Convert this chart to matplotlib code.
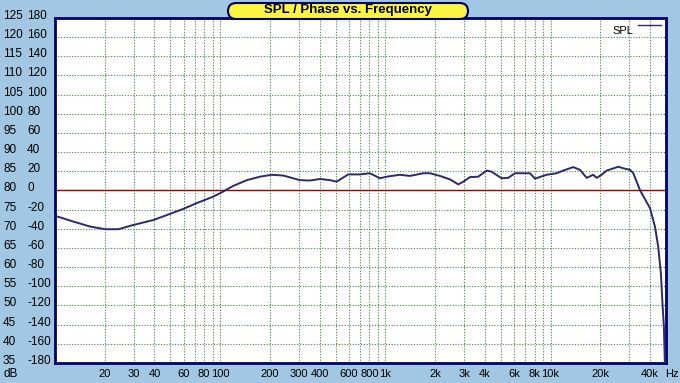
import numpy as np
import matplotlib
matplotlib.use("Agg")
import matplotlib.pyplot as plt
from matplotlib import transforms
from matplotlib.patches import FancyBboxPatch

# ---- data ----
freq_hz = [10, 12.9, 16.3, 20.1, 24.2, 29.8, 39.4, 49.7, 59.8, 72.1, 90.8, 102, 120, 145, 174,
           205, 241, 304, 350, 402, 462, 507, 596, 702, 806, 927, 1018, 1225, 1409, 1695,
           1862, 2141, 2461, 2763, 2965, 3252, 3650, 4100, 4396, 5055, 5546, 6092, 7500,
           8050, 9465, 10890, 11940, 13710, 15060, 16550, 18130, 19010, 20370, 21870,
           25700, 27540, 30270, 31700, 34770, 40000, 42850, 44870, 46560, 47730, 48550, 49200]
spl_db = [73.4, 71.9, 70.6, 69.9, 69.9, 71.0, 72.3, 73.9, 75.2, 76.7, 78.4, 79.5, 81.2, 82.7, 83.6,
          84.1, 83.9, 82.7, 82.6, 83.0, 82.7, 82.3, 84.2, 84.2, 84.5, 83.2, 83.6, 84.1, 83.8, 84.5,
          84.5, 83.8, 82.9, 81.6, 82.3, 83.5, 83.6, 85.2, 84.9, 83.2, 83.3, 84.5, 84.5,
          83.1, 84.1, 84.5, 85.2, 86.1, 85.4, 83.3, 84.1, 83.3, 84.1, 85.2,
          86.2, 85.8, 85.4, 84.5, 80.1, 75.4, 70.6, 65.3, 58.4, 49.7, 44.5, 35.0]

db_labels = [125, 120, 115, 110, 105, 100, 95, 90, 85, 80, 75, 70, 65, 60, 55, 50, 45, 40, 35]
phase_labels = [180, 160, 140, 120, 100, 80, 60, 40, 20, 0, -20, -40, -60, -80, -100, -120,
                -140, -160, -180]
x_tick_freqs = [20, 30, 40, 60, 80, 100, 200, 300, 400, 600, 800, 1000, 2000, 3000, 4000,
                6000, 8000, 10000, 20000, 40000]
x_tick_labels = ["20", "30", "40", "60", "80", "100", "200", "300", "400", "600", "800",
                 "1k", "2k", "3k", "4k", "6k", "8k", "10k", "20k", "40k"]
grid_freqs = ([10 * i for i in range(2, 10)] + [100 * i for i in range(1, 10)] +
              [1000 * i for i in range(1, 10)] + [10000, 20000, 30000, 40000])
title = "SPL / Phase vs. Frequency"
legend_label = "SPL"
ref_level = 80

# ---- figure ----
W, H = 680, 383
bg = "#A2C7E2"
navy = "#00006e"
fig = plt.figure(figsize=(W / 100, H / 100), dpi=100, facecolor=bg)
L, R, T, B = 55, 666, 18, 363
ax = fig.add_axes([L / W, (H - B) / H, (R - L) / W, (B - T) / H])
ax.set_facecolor("white")
ax.set_xscale("log")
ax.set_xlim(10, 50000)
ax.set_ylim(35, 125)

for s in ax.spines.values():
    s.set_color(navy)
    s.set_linewidth(2)

grid_kw = dict(color="#4a804a", lw=0.8, ls=(0, (1, 1.5)), zorder=1)
for f in grid_freqs:
    ax.axvline(f, **grid_kw)
for v in db_labels[1:-1]:
    ax.axhline(v, **grid_kw)

ax.axhline(ref_level, color="#a00000", lw=1.0, zorder=2)
ax.plot(freq_hz, spl_db, color="#2b2b6b", lw=1.4, zorder=3)

ax.set_yticks([])
ax.set_xticks(x_tick_freqs)
ax.set_xticklabels(x_tick_labels, fontsize=8, family="Liberation Sans", color="black")
ax.minorticks_off()
ax.tick_params(axis="x", length=0, pad=4)
ax.tick_params(axis="y", which="both", length=0)

# y labels in two columns
tr = transforms.blended_transform_factory(fig.transFigure, ax.transData)
tr_up = transforms.offset_copy(tr, fig=fig, x=0, y=2, units="dots")
for d, p in zip(db_labels, phase_labels):
    fig.text(3 / W, d, str(d), transform=tr_up, fontsize=8.5, family="Liberation Sans",
             ha="left", va="center")
    fig.text(27 / W, d, str(p), transform=tr_up, fontsize=8.5, family="Liberation Sans",
             ha="left", va="center")
fig.text(3 / W, 1 - 374 / H, "dB", fontsize=8.5, family="Liberation Sans", ha="left", va="center")
fig.text(679 / W, 1 - 374 / H, "Hz", fontsize=8, family="Liberation Sans", ha="right", va="center")

# title box
box = FancyBboxPatch((228 / W, 1 - 19 / H), 240 / W, 16 / H,
                     boxstyle="round,pad=0,rounding_size=0.012",
                     transform=fig.transFigure, facecolor="#fbf542", edgecolor=navy,
                     lw=1.5, zorder=10, mutation_aspect=W / H)
fig.patches.append(box)
fig.text(348 / W, 1 - 10.5 / H, title, fontsize=9.5, fontweight="bold", family="Liberation Sans",
         ha="center", va="center", zorder=11)

# legend
fig.text(633 / W, 1 - 31 / H, legend_label, fontsize=8, family="Liberation Sans",
         ha="right", va="center")
ax.plot([638 / W, 661 / W], [1 - 25 / H, 1 - 25 / H], transform=fig.transFigure,
        color="#2b2b6b", lw=1.0, clip_on=False)

fig.savefig("out.png", dpi=100, facecolor=bg)
